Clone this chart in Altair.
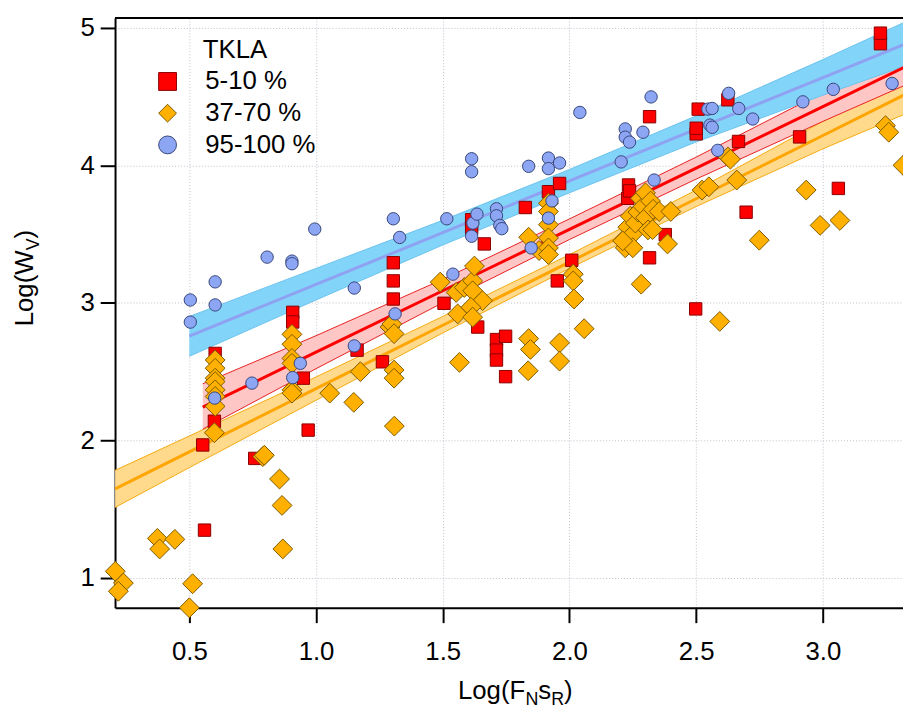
import altair as alt
import pandas as pd

FONT = "Liberation Sans"

# ---------------- data ----------------
groups = ["5-10 %", "37-70 %", "95-100 %"]

red_x = [0.553, 0.560, 0.599, 0.602, 0.758, 0.908, 0.908, 0.950, 0.969, 1.162,
         1.262, 1.305, 1.305, 1.305, 1.505, 1.614, 1.614, 1.638, 1.664, 1.712,
         1.712, 1.712, 1.748, 1.748, 1.826, 1.917, 1.952, 1.961, 2.009, 2.230,
         2.233, 2.237, 2.316, 2.316, 2.378, 2.498, 2.500, 2.500, 2.508, 2.625,
         2.667, 2.697, 2.908, 3.061, 3.227, 3.227]
red_y = [1.965, 1.345, 2.138, 2.631, 1.867, 2.930, 2.860, 2.451, 2.073, 2.655,
         2.570, 3.291, 3.159, 3.027, 2.996, 3.604, 3.544, 2.823, 3.428, 2.732,
         2.655, 2.583, 2.756, 2.462, 3.693, 3.808, 3.159, 3.868, 3.309, 3.760,
         3.857, 3.814, 4.354, 3.327, 3.496, 2.955, 4.229, 4.270, 4.409, 4.477,
         4.174, 3.659, 4.207, 3.832, 4.885, 4.962]

orange_x = [0.208, 0.240, 0.220, 0.374, 0.383, 0.443, 0.500, 0.513, 0.599, 0.602,
            0.602, 0.602, 0.602, 0.602, 0.602, 0.602, 0.790, 0.796, 0.856, 0.866,
            0.869, 0.905, 0.905, 0.905, 0.905, 0.905, 0.905, 1.054, 1.149, 1.175,
            1.292, 1.299, 1.308, 1.308, 1.308, 1.309, 1.490, 1.553, 1.585, 1.618,
            1.618, 1.625, 1.657, 1.559, 1.611, 1.618, 1.566, 1.839, 1.839, 1.846,
            1.837, 1.880, 1.917, 1.917, 1.917, 1.917, 1.917, 1.917, 1.961, 1.961,
            2.015, 2.015, 2.018, 2.058, 2.220, 2.220, 2.230, 2.240, 2.250, 2.260,
            2.270, 2.280, 2.290, 2.300, 2.300, 2.310, 2.320, 2.330, 2.328, 2.354,
            2.400, 2.387, 2.283, 2.250, 2.210, 2.523, 2.550, 2.593, 2.625, 2.635,
            2.660, 2.749, 2.934, 2.989, 3.067, 3.247, 3.260, 3.316]
orange_y = [1.045, 0.960, 0.900, 1.285, 1.208, 1.278, 0.780, 0.955, 2.054, 2.583,
            2.523, 2.451, 2.426, 2.366, 2.318, 2.246, 1.880, 1.890, 1.717, 1.525,
            1.208, 2.770, 2.698, 2.595, 2.559, 2.366, 2.342, 2.342, 2.275, 2.498,
            2.823, 2.845, 2.775, 2.510, 2.451, 2.102, 3.150, 3.075, 3.111, 3.159,
            3.087, 3.267, 3.015, 2.919, 2.967, 2.895, 2.566, 3.477, 2.739, 2.660,
            2.505, 3.380, 3.724, 3.664, 3.568, 3.472, 3.399, 3.351, 2.708, 2.575,
            3.208, 3.159, 3.027, 2.811, 3.400, 3.470, 3.550, 3.630, 3.500, 3.580,
            3.660, 3.760, 3.700, 3.800, 3.620, 3.530, 3.740, 3.680, 3.532, 3.664,
            3.664, 3.428, 3.135, 3.400, 3.450, 3.820, 3.844, 2.864, 4.061, 4.045,
            3.893, 3.455, 3.820, 3.563, 3.599, 4.289, 4.241, 4.000]

blue_x = [0.504, 0.504, 0.600, 0.602, 0.602, 0.747, 0.807, 0.905, 0.905, 0.908,
          0.938, 0.995, 1.151, 1.151, 1.305, 1.312, 1.330, 1.516, 1.540, 1.614,
          1.614, 1.614, 1.619, 1.635, 1.712, 1.712, 1.725, 1.733, 1.839, 1.849,
          1.917, 1.917, 1.917, 1.931, 1.961, 2.041, 2.204, 2.220, 2.220, 2.237,
          2.290, 2.322, 2.334, 2.546, 2.563, 2.554, 2.563, 2.585, 2.628, 2.668,
          2.723, 2.921, 3.041, 3.273]
blue_y = [3.020, 2.859, 2.306, 3.152, 2.984, 2.415, 3.332, 3.303, 3.284, 2.455,
          2.559, 3.536, 3.107, 2.686, 3.611, 2.919, 3.475, 3.611, 3.208, 4.048,
          3.953, 3.484, 3.580, 3.645, 3.684, 3.633, 3.563, 3.539, 3.993, 3.399,
          4.053, 3.976, 3.616, 3.741, 4.017, 4.385, 4.025, 4.265, 4.205, 4.169,
          4.241, 4.498, 3.893, 4.409, 4.414, 4.293, 4.277, 4.109, 4.524, 4.414,
          4.337, 4.462, 4.553, 4.596]

# regression lines with confidence bands
blue_fx = [0.50, 1.00, 1.50, 2.00, 2.50, 3.00, 3.32]
blue_fit = [2.757, 3.133, 3.510, 3.886, 4.263, 4.639, 4.880]
blue_lo = [2.61, 3.02, 3.42, 3.80, 4.17, 4.51, 4.72]
blue_hi = [2.90, 3.25, 3.60, 3.97, 4.36, 4.77, 5.04]

red_fx = [0.553, 1.00, 1.50, 2.00, 2.50, 3.00, 3.32]
red_fit = [2.240, 2.640, 3.087, 3.534, 3.980, 4.427, 4.713]
red_lo = [2.08, 2.52, 3.00, 3.46, 3.90, 4.32, 4.58]
red_hi = [2.41, 2.76, 3.17, 3.61, 4.06, 4.53, 4.85]

orange_fx = [0.207, 0.50, 1.00, 1.50, 2.00, 2.50, 3.00, 3.32]
orange_fit = [1.645, 1.915, 2.375, 2.836, 3.296, 3.757, 4.217, 4.512]
orange_lo = [1.51, 1.80, 2.29, 2.78, 3.25, 3.70, 4.12, 4.37]
orange_hi = [1.78, 2.03, 2.46, 2.90, 3.35, 3.82, 4.32, 4.66]

x_ticks = [0.5, 1.0, 1.5, 2.0, 2.5, 3.0]
y_ticks = [1, 2, 3, 4, 5]

# ---------------- layout ----------------
W, H = 795, 595
xs = alt.Scale(domain=[0.207, 3.316], nice=False, zero=False)
ys = alt.Scale(domain=[0.78, 5.072], nice=False, zero=False)
xaxis = alt.Axis(values=x_ticks, format=".1f", title=None, grid=True, labelPadding=16)
yaxis = alt.Axis(values=y_ticks, format="d", title=None, grid=True, labelPadding=6)


def X():
    return alt.X("x:Q", scale=xs, axis=xaxis)


def Y(f):
    return alt.Y(f + ":Q", scale=ys, axis=yaxis)


def fit_layers(fx, fit, lo, hi, fill, edge, line):
    df = pd.DataFrame({"x": fx, "fit": fit, "lo": lo, "hi": hi})
    b = alt.Chart(df)
    area = b.mark_area(color=fill, opacity=1, clip=True).encode(x=X(), y=Y("lo"), y2="hi:Q")
    e1 = b.mark_line(color=edge, strokeWidth=1, clip=True).encode(x=X(), y=Y("lo"))
    e2 = b.mark_line(color=edge, strokeWidth=1, clip=True).encode(x=X(), y=Y("hi"))
    ln = b.mark_line(color=line, strokeWidth=3, clip=True).encode(x=X(), y=Y("fit"))
    return [area, e1, e2], [ln]


ob, ol = fit_layers(orange_fx, orange_fit, orange_lo, orange_hi, "#FFD98C", "#F5AA10", "#FFA500")
rb, rl = fit_layers(red_fx, red_fit, red_lo, red_hi, "#FFC6C6", "#E82020", "#FF0000")
bb, bl = fit_layers(blue_fx, blue_fit, blue_lo, blue_hi, "#82D4F8", "#6CC2EE", "#8FA2F2")

leg = alt.Legend(
    title="TKLA", orient="none", legendX=40, legendY=19, padding=0,
    titleFont=FONT, titleFontSize=26, titleFontWeight="normal", titleColor="black",
    titleAnchor="middle", titlePadding=6,
    labelFont=FONT, labelFontSize=26, labelColor="black", labelOffset=25,
    symbolSize=324, symbolStrokeWidth=1, rowPadding=6,
)
fill_enc = alt.Fill("g:N", scale=alt.Scale(domain=groups, range=["#FF0000", "#FFB000", "#8CA6F4"]), legend=leg)
stroke_enc = alt.Stroke("g:N", scale=alt.Scale(domain=groups, range=["#8A0000", "#7A5A00", "#38467A"]), legend=leg)
shape_enc = alt.Shape("g:N", scale=alt.Scale(domain=groups, range=["square", "diamond", "circle"]), legend=leg)


def point_layer(xv, yv, g, size):
    df = pd.DataFrame({"x": xv, "y": yv, "g": [g] * len(xv)})
    return alt.Chart(df).mark_point(filled=True, opacity=1, strokeWidth=1, size=size).encode(
        x=X(), y=Y("y"), fill=fill_enc, stroke=stroke_enc, shape=shape_enc)


p_red = point_layer(red_x, red_y, groups[0], 156)
p_orange = point_layer(orange_x, orange_y, groups[1], 400)
p_blue = point_layer(blue_x, blue_y, groups[2], 156)

one = pd.DataFrame({"a": [0]})
top_line = alt.Chart(one).mark_rule(color="black", strokeWidth=2).encode(
    x=alt.value(0), x2=alt.value(W), y=alt.value(0))


def txt(s, x, y, size=26, angle=0):
    return alt.Chart(one).mark_text(
        text=s, font=FONT, fontSize=size, color="black", align="left",
        baseline="alphabetic", angle=angle).encode(x=alt.value(x), y=alt.value(y))


# x-axis title Log(F_N s_R)
xt = [
    txt("Log(F", 346, 687),
    txt("N", 414, 693, 18),
    txt("s", 427, 687),
    txt("R", 440, 693, 18),
    txt(")", 453, 687),
]
# y-axis title Log(W_V)
yt = [
    txt("Log(W", -83, 311, 26, 270),
    txt("V", -77, 234.4, 18, 270),
    txt(")", -83, 222.4, 26, 270),
]

chart = alt.layer(
    *ob, *rb, *bb, *ol, *rl, *bl, p_red, p_orange, p_blue, top_line, *xt, *yt
).properties(
    width=W, height=H,
    padding={"left": 108, "top": 7, "right": 0, "bottom": 98},
    autosize=alt.AutoSizeParams(type="none"),
).configure_view(stroke=None).configure_axis(
    domainColor="black", domainWidth=2, tickColor="black", tickWidth=2, tickSize=15,
    labelFont=FONT, labelFontSize=26, labelColor="black",
    gridColor="#BFBFCC", gridDash=[1, 2], gridWidth=1,
)

chart.save("out.html", embed_options={"renderer": "svg", "actions": False})
